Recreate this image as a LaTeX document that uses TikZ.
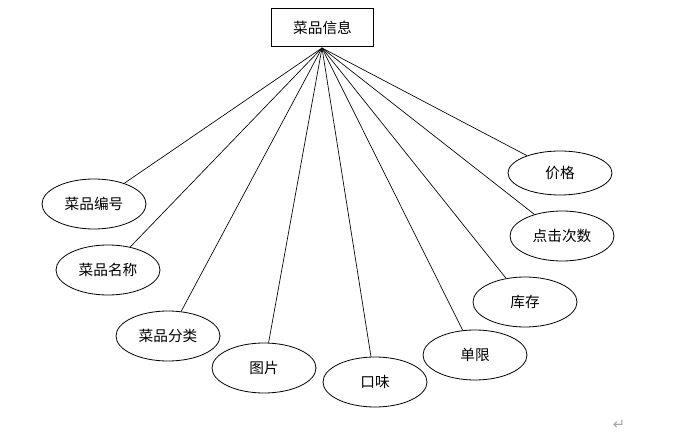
\documentclass[tikz,border=0pt]{standalone}
\usepackage{fontspec}
\setmainfont{Noto Sans CJK SC}
\newfontfamily\symfont{DejaVu Sans}
\usetikzlibrary{shapes.geometric}
\begin{document}
\begin{tikzpicture}[x=0.75pt,y=-0.75pt,
  attr/.style={draw,ellipse,line width=0.6pt,inner sep=0pt,minimum width=78pt,minimum height=37.5pt,font=\fontsize{11pt}{12pt}\selectfont},
  entity/.style={draw,rectangle,line width=0.6pt,inner sep=0pt,minimum width=77pt,minimum height=29pt,font=\fontsize{11pt}{12pt}\selectfont},
  link/.style={line width=0.5pt}]
\useasboundingbox (0,0) rectangle (692,438);
\node[entity] (e) at (322.5,27.5) {菜品信息};
\node[attr] (a1) at (94,204) {菜品编号};
\node[attr] (a2) at (108,270) {菜品名称};
\node[attr] (a3) at (168,336) {菜品分类};
\node[attr] (a4) at (264,368) {图片};
\node[attr] (a5) at (375,382) {口味};
\node[attr] (a6) at (475,355) {单限};
\node[attr] (a7) at (525,302) {库存};
\node[attr] (a8) at (562,236) {点击次数};
\node[attr,minimum height=33pt] (a9) at (560,173) {价格};
\coordinate (h) at (322,48);
\foreach \n in {a1,a2,a3,a4,a5,a6,a7,a8,a9} \draw[link] (h) -- (\n);
\node[text=gray!70,font=\symfont\fontsize{11pt}{12pt}\selectfont] (ret) at (619,425) {↵};
\end{tikzpicture}
\end{document}
